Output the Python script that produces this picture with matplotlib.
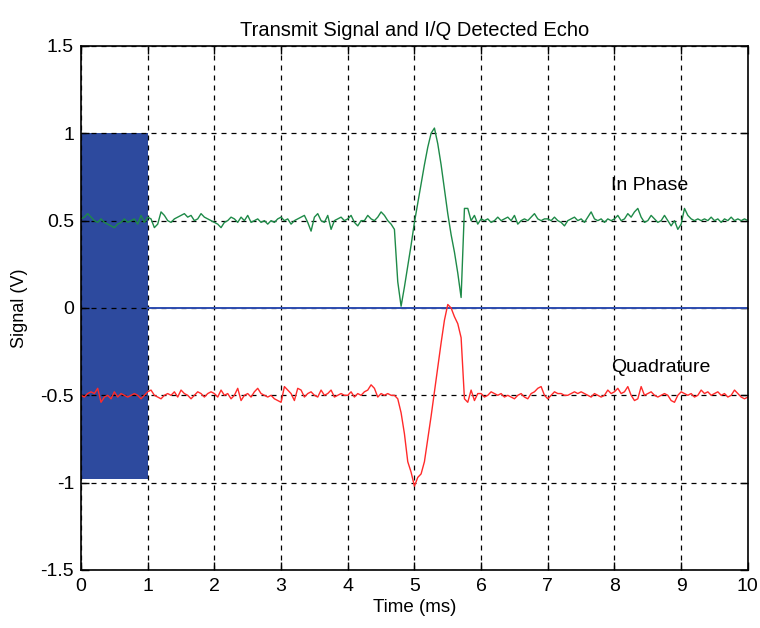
import numpy as np
import matplotlib

matplotlib.use("Agg")
import matplotlib.pyplot as plt
from matplotlib import font_manager

# sample times (ms) for the detected echo traces
time_ms = np.linspace(0.0, 10.0, 201)

# in-phase channel, every 0.05 ms
in_phase = [
    0.51, 0.52, 0.54, 0.52, 0.50, 0.49, 0.51, 0.49, 0.48, 0.47, 0.46, 0.48, 0.49, 0.51, 0.49, 0.50, 0.51, 0.48, 0.53, 0.49,
    0.52, 0.51, 0.46, 0.48, 0.55, 0.53, 0.50, 0.49, 0.51, 0.52, 0.53, 0.54, 0.52, 0.53, 0.50, 0.51, 0.54, 0.52, 0.51, 0.50,
    0.49, 0.48, 0.46, 0.49, 0.50, 0.52, 0.51, 0.49, 0.52, 0.50, 0.53, 0.49, 0.50, 0.51, 0.49, 0.50, 0.48, 0.50, 0.49, 0.51,
    0.52, 0.50, 0.51, 0.48, 0.50, 0.51, 0.52, 0.53, 0.49, 0.44, 0.52, 0.54, 0.50, 0.49, 0.53, 0.45, 0.50, 0.51, 0.52, 0.50,
    0.51, 0.53, 0.49, 0.47, 0.50, 0.50, 0.53, 0.51, 0.50, 0.52, 0.55, 0.53, 0.50, 0.48, 0.45, 0.15, 0.01, 0.12, 0.24, 0.36,
    0.49, 0.60, 0.71, 0.82, 0.92, 1.00, 1.03, 0.94, 0.82, 0.68, 0.54, 0.42, 0.32, 0.20, 0.06, 0.57, 0.57, 0.50, 0.53, 0.48,
    0.51, 0.50, 0.51, 0.49, 0.50, 0.52, 0.50, 0.51, 0.52, 0.50, 0.53, 0.48, 0.50, 0.51, 0.50, 0.52, 0.54, 0.51, 0.50, 0.51,
    0.51, 0.50, 0.52, 0.50, 0.49, 0.47, 0.50, 0.51, 0.52, 0.50, 0.51, 0.49, 0.52, 0.55, 0.51, 0.50, 0.51, 0.49, 0.51, 0.50,
    0.51, 0.53, 0.50, 0.51, 0.54, 0.52, 0.55, 0.57, 0.52, 0.49, 0.50, 0.53, 0.51, 0.49, 0.50, 0.53, 0.50, 0.47, 0.50, 0.45,
    0.48, 0.57, 0.53, 0.51, 0.50, 0.51, 0.50, 0.51, 0.50, 0.52, 0.50, 0.51, 0.49, 0.51, 0.50, 0.52, 0.50, 0.51, 0.50, 0.51,
    0.50,
]

# quadrature channel, same sampling
quadrature = [
    -0.50, -0.51, -0.49, -0.48, -0.49, -0.46, -0.54, -0.51, -0.50, -0.52, -0.48, -0.51, -0.49, -0.50, -0.51, -0.50, -0.49, -0.50, -0.52, -0.50,
    -0.48, -0.47, -0.50, -0.51, -0.52, -0.50, -0.49, -0.50, -0.48, -0.51, -0.47, -0.49, -0.50, -0.52, -0.50, -0.48, -0.49, -0.51, -0.49, -0.48,
    -0.49, -0.51, -0.47, -0.50, -0.49, -0.52, -0.50, -0.46, -0.53, -0.50, -0.49, -0.51, -0.48, -0.46, -0.49, -0.50, -0.51, -0.50, -0.52, -0.53,
    -0.54, -0.45, -0.47, -0.49, -0.53, -0.46, -0.47, -0.51, -0.49, -0.48, -0.50, -0.51, -0.47, -0.50, -0.49, -0.47, -0.51, -0.50, -0.49, -0.50,
    -0.50, -0.48, -0.51, -0.49, -0.50, -0.48, -0.47, -0.44, -0.46, -0.51, -0.49, -0.50, -0.49, -0.50, -0.50, -0.52, -0.60, -0.72, -0.88, -0.94,
    -1.02, -0.97, -0.95, -0.88, -0.75, -0.62, -0.48, -0.34, -0.20, -0.07, 0.02, 0.00, -0.05, -0.09, -0.17, -0.52, -0.54, -0.47, -0.53, -0.49,
    -0.49, -0.51, -0.50, -0.48, -0.49, -0.50, -0.49, -0.51, -0.50, -0.51, -0.52, -0.50, -0.49, -0.51, -0.52, -0.49, -0.48, -0.46, -0.45, -0.50,
    -0.52, -0.50, -0.48, -0.49, -0.49, -0.50, -0.50, -0.49, -0.48, -0.49, -0.48, -0.49, -0.50, -0.51, -0.49, -0.50, -0.51, -0.50, -0.47, -0.49,
    -0.48, -0.46, -0.49, -0.48, -0.45, -0.50, -0.53, -0.52, -0.45, -0.50, -0.49, -0.48, -0.50, -0.51, -0.50, -0.49, -0.50, -0.53, -0.54, -0.50,
    -0.48, -0.49, -0.50, -0.49, -0.51, -0.50, -0.47, -0.49, -0.48, -0.50, -0.49, -0.48, -0.50, -0.49, -0.51, -0.50, -0.47, -0.49, -0.51, -0.52,
    -0.51,
]

# transmit burst: carrier envelope during the first ms, then idle at zero
tx_burst_time = [0.0, 1.0]
tx_burst_high = [1.0, 1.0]
tx_burst_low = [-0.98, -0.98]
tx_idle_time = [1.0, 10.0]
tx_idle_level = [0.0, 0.0]

x_ticks = [0, 1, 2, 3, 4, 5, 6, 7, 8, 9, 10]
y_ticks = [-1.5, -1, -0.5, 0, 0.5, 1, 1.5]
y_tick_labels = ["-1.5", "-1", "-0.5", "0", "0.5", "1", "1.5"]

available = {f.name for f in font_manager.fontManager.ttflist}
family = "Liberation Sans Narrow" if "Liberation Sans Narrow" in available else "Liberation Sans"
plt.rcParams["font.family"] = [family, "DejaVu Sans"]

fig = plt.figure(figsize=(7.6, 6.28), dpi=100)
ax = fig.add_axes([0.1066, 0.0924, 0.8774, 0.8344])

ax.fill_between(tx_burst_time, tx_burst_low, tx_burst_high, color="#2D4A9E", linewidth=0, zorder=2)
ax.plot(tx_idle_time, tx_idle_level, color="#2E4DB0", linewidth=1.4, zorder=3)
ax.plot(time_ms, in_phase, color="#1E8A48", linewidth=1.0, zorder=4)
ax.plot(time_ms, quadrature, color="#FF2A2A", linewidth=1.0, zorder=4)

ax.text(7.95, 0.70, "In Phase", fontsize=14, va="center", ha="left", zorder=5)
ax.text(7.95, -0.34, "Quadrature", fontsize=14, va="center", ha="left", zorder=5)

ax.set_xlim(0, 10)
ax.set_ylim(-1.5, 1.5)
ax.set_xticks(x_ticks)
ax.set_yticks(y_ticks)
ax.set_yticklabels(y_tick_labels)
ax.grid(True, color="black", linestyle=(0, (4, 4)), linewidth=0.9)
ax.set_axisbelow(False)
for line in ax.get_xgridlines() + ax.get_ygridlines():
    line.set_zorder(1.5)
ax.tick_params(direction="in", top=True, right=True, length=6, width=1, labelsize=14)
ax.tick_params(axis="x", pad=6)
ax.tick_params(axis="y", pad=5)
for spine in ax.spines.values():
    spine.set_linewidth(1.2)
    spine.set_zorder(6)

ax.set_title("Transmit Signal and I/Q Detected Echo", fontsize=14.5, pad=7)
ax.set_xlabel("Time (ms)", fontsize=13.5, labelpad=3)
ax.set_ylabel("Signal (V)", fontsize=13, labelpad=9)

fig.savefig("out.png", dpi=100)
